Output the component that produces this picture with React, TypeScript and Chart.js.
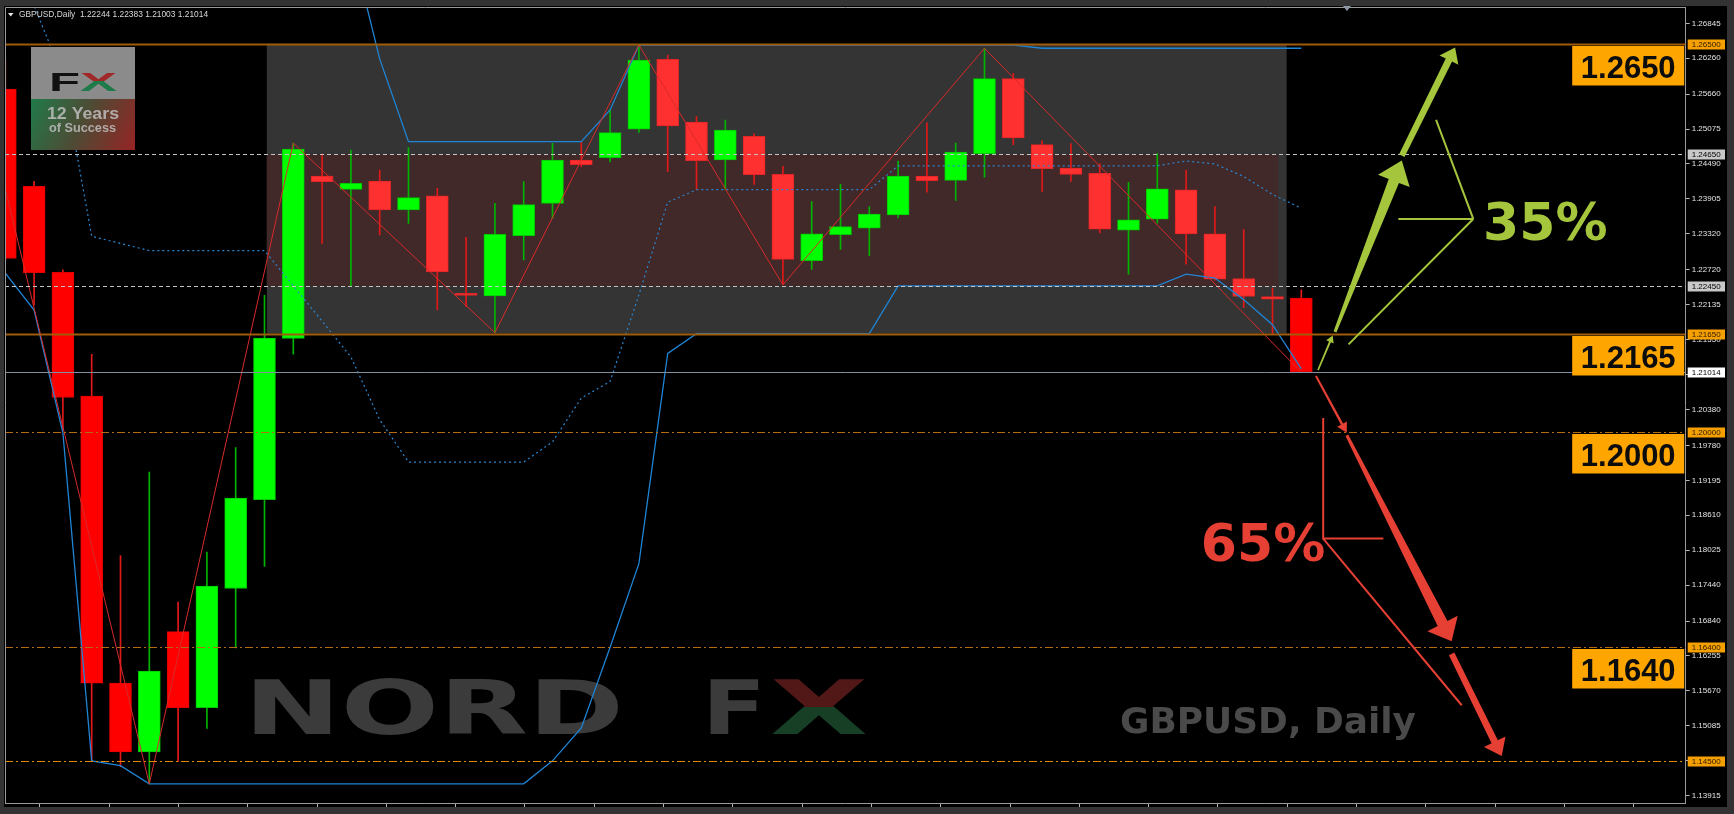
import React, { useEffect, useRef } from 'react';
import { Chart, registerables } from 'chart.js';
Chart.register(...registerables);

// ---- candle data (GBPUSD daily) ----
const OPEN = [1.25744, 1.24117, 1.22678, 1.20607, 1.158, 1.14648, 1.16662, 1.15388, 1.17385, 1.18873, 1.21569, 1.24289, 1.24066, 1.24205, 1.2372, 1.23959, 1.223, 1.2228, 1.2329, 1.23832, 1.24557, 1.24595, 1.25071, 1.26242, 1.25193, 1.24557, 1.24954, 1.24316, 1.22871, 1.23308, 1.23414, 1.23638, 1.24288, 1.24215, 1.24663, 1.25918, 1.24814, 1.24422, 1.24333, 1.23381, 1.23566, 1.24058, 1.23319, 1.22574, 1.22272, 1.22244];
const HIGH = [1.26237, 1.24199, 1.22719, 1.21306, 1.17936, 1.19333, 1.17155, 1.17993, 1.19744, 1.22292, 1.2484, 1.24657, 1.24724, 1.24389, 1.24763, 1.24083, 1.23263, 1.23832, 1.24194, 1.24836, 1.24863, 1.25394, 1.26482, 1.26314, 1.25282, 1.25226, 1.24999, 1.2445, 1.23862, 1.24148, 1.23778, 1.2454, 1.25178, 1.24842, 1.26427, 1.26007, 1.24876, 1.24831, 1.24495, 1.24182, 1.24663, 1.24383, 1.23778, 1.23392, 1.22412, 1.22383];
const LOW = [1.2286, 1.2213, 1.20032, 1.145, 1.14402, 1.14114, 1.14484, 1.15043, 1.1639, 1.17755, 1.21306, 1.23162, 1.22436, 1.23301, 1.23497, 1.22046, 1.22101, 1.21666, 1.22883, 1.23581, 1.24445, 1.24523, 1.2502, 1.24361, 1.24066, 1.24066, 1.24148, 1.22468, 1.22726, 1.23062, 1.22955, 1.23588, 1.24019, 1.23879, 1.24271, 1.24814, 1.2403, 1.24198, 1.23336, 1.22647, 1.23498, 1.22815, 1.22546, 1.22087, 1.21639, 1.21003];
const CLOSE = [1.22908, 1.2267, 1.20582, 1.15799, 1.14648, 1.16004, 1.15388, 1.17426, 1.18897, 1.21577, 1.24741, 1.24194, 1.24167, 1.2372, 1.23926, 1.22682, 1.2229, 1.23313, 1.23809, 1.24557, 1.24478, 1.25014, 1.26231, 1.25126, 1.24545, 1.25059, 1.2431, 1.22894, 1.23319, 1.23442, 1.2365, 1.24288, 1.2421, 1.24691, 1.25918, 1.24926, 1.24411, 1.24316, 1.23398, 1.23554, 1.24075, 1.23319, 1.22563, 1.22272, 1.22227, 1.21014];

// ---- channel indicator ----
const UPPER = [1.299, 1.299, 1.299, 1.299, 1.299, 1.299, 1.299, 1.296, 1.293, 1.29, 1.288, 1.285, 1.282, 1.2625, 1.24863, 1.24863, 1.24863, 1.24863, 1.24863, 1.24863, 1.24863, 1.25394, 1.2648, 1.2648, 1.2648, 1.2648, 1.2648, 1.2648, 1.2648, 1.2648, 1.2648, 1.2648, 1.2648, 1.2648, 1.2648, 1.2648, 1.26427, 1.26427, 1.26427, 1.26427, 1.26427, 1.26427, 1.26427, 1.26427, 1.26427, 1.26427];
const MIDDLE = [1.278, 1.2714, 1.2595, 1.2328, 1.2316, 1.2304, 1.2304, 1.2304, 1.2304, 1.2304, 1.2245, 1.2186, 1.2126, 1.2021, 1.195, 1.195, 1.195, 1.195, 1.195, 1.1984, 1.2057, 1.2085, 1.223, 1.2385, 1.2406, 1.2406, 1.2406, 1.2406, 1.2406, 1.2406, 1.2406, 1.2446, 1.2446, 1.2446, 1.2446, 1.2446, 1.2446, 1.2446, 1.2446, 1.2446, 1.2446, 1.2454, 1.2449, 1.2428, 1.2398, 1.2375];
const LOWER = [1.22662, 1.22045, 1.1999, 1.145, 1.14418, 1.14114, 1.14114, 1.14114, 1.14114, 1.14114, 1.14114, 1.14114, 1.14114, 1.14114, 1.14114, 1.14114, 1.14114, 1.14114, 1.14114, 1.145, 1.1505, 1.164, 1.178, 1.2132, 1.2165, 1.2165, 1.2165, 1.2165, 1.2165, 1.2165, 1.2165, 1.2245, 1.2245, 1.2245, 1.2245, 1.2245, 1.2245, 1.2245, 1.2245, 1.2245, 1.2245, 1.22647, 1.2258, 1.2222, 1.218, 1.2106];

// ---- zigzag ----
const ZZ_IDX = [0, 5, 10, 17, 22, 27, 34, 45];
const ZZ_VAL = [1.2407, 1.14114, 1.2484, 1.21666, 1.26482, 1.22468, 1.26427, 1.21003];

// ---- price axis ticks ----
const Y_TICKS = [1.26845, 1.2626, 1.2566, 1.25075, 1.2449, 1.23905, 1.2332, 1.2272, 1.22135, 1.2155, 1.20965, 1.2038, 1.1978, 1.19195, 1.1861, 1.18025, 1.1744, 1.1684, 1.16255, 1.1567, 1.15085, 1.145, 1.13915];
const Y_MIN = 1.13794;
const Y_MAX = 1.271178;
const X_MIN = -0.0104;
const X_MAX = 58.347;
const X_TICK_STEP = 2.406;

// ---- horizontal levels ----
const LEVEL_PRICES = [1.265, 1.2465, 1.2245, 1.2165, 1.21014, 1.2, 1.164, 1.145];
const LEVEL_TEXT = ['1.26500', '1.24650', '1.22450', '1.21650', '1.21014', '1.20000', '1.16400', '1.14500'];
const LEVEL_KIND = ['solid', 'dash', 'dash', 'solid', 'bid', 'dashdot', 'dashdot', 'dashdot2'];
const BIG_PRICES = [1.265, 1.2165, 1.2, 1.164];
const BIG_TEXT = ['1.2650', '1.2165', '1.2000', '1.1640'];

// ---- rectangles [x0, x1, top, bottom] ----
const RECT_GREY = [9.08, 44.49, 1.265, 1.2165];
const RECT_BROWN = [9.08, 44.2, 1.2465, 1.2245];

// ---- arrows [x1, p1, x2, p2, shaftStart, shaftEnd, headLen, headWidth] ----
const GREEN_ARROWS = [
  [45.58, 1.2104, 46.09, 1.2162, 1.6, 2, 7, 8],
  [46.17, 1.2168, 48.49, 1.2455, 3, 11, 22, 34],
  [48.49, 1.2463, 50.34, 1.2644, 6, 7, 14, 21],
];
const RED_ARROWS = [
  [45.51, 1.2094, 46.58, 1.1999, 2, 2.5, 10, 11],
  [46.58, 1.1995, 50.22, 1.165, 3, 11, 20, 34],
  [50.22, 1.1629, 51.96, 1.1458, 6, 7, 16, 24],
];
const GREEN_BRACKET = [
  [[49.68, 1.2523], [50.97, 1.2357]],
  [[48.37, 1.2357], [50.97, 1.2357]],
  [[46.64, 1.2147], [50.97, 1.2357]],
];
const RED_BRACKET = [
  [[45.76, 1.2024], [45.76, 1.1822], [47.85, 1.1822]],
  [[45.76, 1.1822], [50.57, 1.1543]],
];
const PCT_TEXT = ['35%', '65%'];
const PCT_POS = [[51.31, 1.23218], [41.51, 1.17845]];

const HEADER = 'GBPUSD,Daily  1.22244 1.22383 1.21003 1.21014';

const GREEN_C = '#a5c63c';
const RED_C = '#e64034';

function drawArrow(ctx: CanvasRenderingContext2D, x1: number, y1: number, x2: number, y2: number, w1: number, w2: number, hl: number, hw: number) {
  const dx = x2 - x1, dy = y2 - y1;
  const L = Math.hypot(dx, dy);
  const ux = dx / L, uy = dy / L;
  const px = -uy, py = ux;
  const bx = x2 - ux * hl, by = y2 - uy * hl;
  ctx.beginPath();
  ctx.moveTo(x1 + px * w1 / 2, y1 + py * w1 / 2);
  ctx.lineTo(bx + px * w2 / 2, by + py * w2 / 2);
  ctx.lineTo(bx + px * hw / 2, by + py * hw / 2);
  ctx.lineTo(x2, y2);
  ctx.lineTo(bx - px * hw / 2, by - py * hw / 2);
  ctx.lineTo(bx - px * w2 / 2, by - py * w2 / 2);
  ctx.lineTo(x1 - px * w1 / 2, y1 - py * w1 / 2);
  ctx.closePath();
  ctx.fill();
}

// draws text whose fill is computed in local (baseline-origin) coordinates
function stretchedText(ctx: CanvasRenderingContext2D, text: string, x: number, y: number, targetW: number, fill?: (c: CanvasRenderingContext2D) => void) {
  const w = ctx.measureText(text).width;
  ctx.save();
  ctx.translate(x, y);
  ctx.scale(targetW / w, 1);
  if (fill) fill(ctx);
  ctx.fillText(text, 0, 0);
  ctx.restore();
}

function splitFill(top: number, topColor: string, bottomColor: string) {
  return (c: CanvasRenderingContext2D) => {
    const g = c.createLinearGradient(0, -top, 0, 0);
    g.addColorStop(0, topColor);
    g.addColorStop(0.5, topColor);
    g.addColorStop(0.5, bottomColor);
    g.addColorStop(1, bottomColor);
    c.fillStyle = g;
  };
}

const overlayPlugin = {
  id: 'overlay',
  beforeDraw(chart: any) {
    const { ctx, width, height } = chart;
    ctx.save();
    ctx.fillStyle = '#333333';
    ctx.fillRect(0, 0, width, height);
    ctx.fillStyle = '#000000';
    ctx.fillRect(4, 6, 1723, 801);
    ctx.restore();
  },
  beforeDatasetsDraw(chart: any) {
    const { ctx, chartArea: a, scales } = chart;
    const xs = scales.x, ys = scales.y;
    ctx.save();
    ctx.beginPath();
    ctx.rect(a.left, a.top, a.right - a.left, a.bottom - a.top);
    ctx.clip();
    const rect = (r: number[], c: string) => {
      const x0 = xs.getPixelForValue(r[0]), x1 = xs.getPixelForValue(r[1]);
      const y0 = ys.getPixelForValue(r[2]), y1 = ys.getPixelForValue(r[3]);
      ctx.fillStyle = c;
      ctx.fillRect(x0, y0, x1 - x0, y1 - y0);
    };
    rect(RECT_GREY, '#343434');
    rect(RECT_BROWN, '#412929');

    // NORD FX watermark
    ctx.font = 'bold 74px "DejaVu Sans"';
    ctx.textBaseline = 'alphabetic';
    ctx.fillStyle = '#3b3b3b';
    stretchedText(ctx, 'NORD', 244, 734, 380);
    stretchedText(ctx, 'F', 702, 734, 64);
    stretchedText(ctx, 'X', 770, 734, 98, splitFill(54, '#521818', '#163f26'));

    // GBPUSD, Daily
    ctx.font = 'bold 36px "DejaVu Sans"';
    ctx.fillStyle = '#4a4a4a';
    stretchedText(ctx, 'GBPUSD, Daily', 1120, 733, 296);
    ctx.restore();
  },
  afterDatasetsDraw(chart: any) {
    const { ctx, chartArea: a, scales } = chart;
    const xs = scales.x, ys = scales.y;
    const X = (v: number) => xs.getPixelForValue(v);
    const Y = (v: number) => ys.getPixelForValue(v);
    ctx.save();
    ctx.beginPath();
    ctx.rect(a.left, a.top, a.right - a.left, a.bottom - a.top);
    ctx.clip();

    // horizontal levels
    LEVEL_PRICES.forEach((p, i) => {
      const y = Math.round(Y(p)) + 0.5;
      const k = LEVEL_KIND[i];
      ctx.beginPath();
      ctx.setLineDash([]);
      if (k === 'solid') { ctx.strokeStyle = '#a05c08'; ctx.lineWidth = 2; }
      else if (k === 'dash') { ctx.strokeStyle = '#c4c4c4'; ctx.lineWidth = 1; ctx.setLineDash([4, 3]); }
      else if (k === 'bid') { ctx.strokeStyle = '#8090a0'; ctx.lineWidth = 1; }
      else if (k === 'dashdot') { ctx.strokeStyle = '#b36c14'; ctx.lineWidth = 1; ctx.setLineDash([8, 3, 2, 3]); }
      else { ctx.strokeStyle = '#e38a00'; ctx.lineWidth = 1; ctx.setLineDash([8, 3, 2, 3]); }
      ctx.moveTo(a.left, y);
      ctx.lineTo(a.right, y);
      ctx.stroke();
    });
    ctx.setLineDash([]);

    // brackets
    ctx.lineWidth = 2;
    ctx.lineJoin = 'miter';
    ctx.strokeStyle = GREEN_C;
    GREEN_BRACKET.forEach((pl) => {
      ctx.beginPath();
      pl.forEach((pt, j) => (j ? ctx.lineTo(X(pt[0]), Y(pt[1])) : ctx.moveTo(X(pt[0]), Y(pt[1]))));
      ctx.stroke();
    });
    ctx.strokeStyle = RED_C;
    RED_BRACKET.forEach((pl) => {
      ctx.beginPath();
      pl.forEach((pt, j) => (j ? ctx.lineTo(X(pt[0]), Y(pt[1])) : ctx.moveTo(X(pt[0]), Y(pt[1]))));
      ctx.stroke();
    });

    // arrows
    ctx.fillStyle = GREEN_C;
    GREEN_ARROWS.forEach((r) => drawArrow(ctx, X(r[0]), Y(r[1]), X(r[2]), Y(r[3]), r[4], r[5], r[6], r[7]));
    ctx.fillStyle = RED_C;
    RED_ARROWS.forEach((r) => drawArrow(ctx, X(r[0]), Y(r[1]), X(r[2]), Y(r[3]), r[4], r[5], r[6], r[7]));

    // percentages
    ctx.font = 'bold 52px "DejaVu Sans"';
    ctx.textBaseline = 'alphabetic';
    ctx.textAlign = 'left';
    ctx.fillStyle = GREEN_C;
    ctx.fillText(PCT_TEXT[0], X(PCT_POS[0][0]), Y(PCT_POS[0][1]));
    ctx.fillStyle = RED_C;
    ctx.fillText(PCT_TEXT[1], X(PCT_POS[1][0]), Y(PCT_POS[1][1]));

    // big orange boxes
    BIG_PRICES.forEach((p, i) => {
      const top = Math.round(Y(p)) + 2;
      const right = a.right - 1.5;
      const left = right - 112;
      ctx.fillStyle = '#ffa500';
      ctx.fillRect(left, top, 112, 39.5);
      ctx.font = 'bold 31px "Liberation Sans"';
      ctx.textAlign = 'center';
      ctx.fillStyle = '#0c0c0c';
      ctx.fillText(BIG_TEXT[i], left + 56, top + 31.5);
    });
    ctx.textAlign = 'left';

    // FX 12 years logo
    ctx.fillStyle = '#8b8b8b';
    ctx.fillRect(31, 47, 104, 52);
    const lg = ctx.createLinearGradient(31, 99, 135, 150);
    lg.addColorStop(0, '#207a4a');
    lg.addColorStop(0.5, '#4f4a34');
    lg.addColorStop(1, '#962424');
    ctx.fillStyle = lg;
    ctx.fillRect(31, 99, 104, 51);
    ctx.font = 'bold 26px "Liberation Sans"';
    ctx.fillStyle = '#111111';
    stretchedText(ctx, 'F', 49, 91, 31);
    stretchedText(ctx, 'X', 80, 91, 37, splitFill(19, '#a02828', '#1f7a4a'));
    ctx.fillStyle = 'rgba(190,190,190,0.85)';
    ctx.font = 'bold 17px "Liberation Sans"';
    stretchedText(ctx, '12 Years', 47, 119, 72);
    ctx.font = 'bold 12.5px "Liberation Sans"';
    stretchedText(ctx, 'of Success', 49, 132, 67);

    // header
    ctx.fillStyle = '#e8e8e8';
    ctx.beginPath();
    ctx.moveTo(8, 13); ctx.lineTo(13.5, 13); ctx.lineTo(10.75, 16.5); ctx.closePath(); ctx.fill();
    ctx.font = '8.4px "Liberation Sans"';
    ctx.fillStyle = '#d8d8d8';
    ctx.textBaseline = 'middle';
    ctx.fillText(HEADER, 19, 15);
    ctx.restore();
  },
  afterDraw(chart: any) {
    const { ctx, chartArea: a, scales } = chart;
    const ys = scales.y;
    ctx.save();
    // plot frame
    ctx.strokeStyle = '#9a9a9a';
    ctx.lineWidth = 1;
    ctx.beginPath();
    ctx.moveTo(a.left + 0.5, a.bottom);
    ctx.lineTo(a.left + 0.5, a.top + 0.5);
    ctx.lineTo(a.right, a.top + 0.5);
    ctx.stroke();
    // level labels on price axis
    LEVEL_PRICES.forEach((p, i) => {
      const y = Math.round(ys.getPixelForValue(p)) + 0.5;
      const k = LEVEL_KIND[i];
      let bg = '#f5a000', fg = '#2a1a00';
      if (k === 'dash') { bg = '#c8c8c8'; fg = '#000000'; }
      if (k === 'bid') { bg = '#ffffff'; fg = '#000000'; }
      ctx.fillStyle = bg;
      ctx.fillRect(a.right + 2, y - 5, 37.3, 10);
      ctx.fillStyle = fg;
      ctx.font = '8px "Liberation Sans"';
      ctx.textBaseline = 'middle';
      ctx.textAlign = 'left';
      ctx.fillText(LEVEL_TEXT[i], a.right + 6, y + 0.5);
    });
    // chart shift marker
    ctx.fillStyle = '#8a96a4';
    ctx.beginPath();
    ctx.moveTo(1343, 6); ctx.lineTo(1351, 6); ctx.lineTo(1347, 11); ctx.closePath(); ctx.fill();
    ctx.restore();
  },
};

export default function App() {
  const ref = useRef<HTMLCanvasElement>(null);
  useEffect(() => {
    document.body.style.margin = '0';
    document.body.style.background = '#000';
    const canvas = ref.current!;
    const idx = OPEN.map((_, i) => i);
    const up = idx.map((i) => CLOSE[i] >= OPEN[i]);
    const inRect = (i: number) => i >= RECT_GREY[0] && i <= RECT_GREY[1];
    const bodyColor = idx.map((i) => (up[i] ? '#00ff00' : inRect(i) ? '#ff3030' : '#ff0000'));
    const bodyBorder = idx.map((i) => (up[i] ? '#00c800' : inRect(i) ? '#e02626' : '#e00000'));
    const wickColor = idx.map((i) => (up[i] ? '#00b400' : '#e01818'));
    const xTicks: number[] = [];
    for (let v = 0; v <= X_MAX; v += X_TICK_STEP) xTicks.push(v);

    const chart = new Chart(canvas, {
      type: 'bar',
      data: {
        datasets: [
          { type: 'bar', data: idx.map((i) => ({ x: i, y: [LOW[i], HIGH[i]] })), backgroundColor: wickColor, barThickness: 1, grouped: false, borderWidth: 0, order: 10 } as any,
          { type: 'bar', data: idx.map((i) => ({ x: i, y: [OPEN[i], CLOSE[i]] })), backgroundColor: bodyColor, borderColor: bodyBorder, borderWidth: 1, borderSkipped: false, barThickness: 22, grouped: false, minBarLength: 2, order: 9 } as any,
          { type: 'line', data: idx.map((i) => ({ x: i, y: UPPER[i] })), borderColor: '#1f84d4', borderWidth: 1.3, pointRadius: 0, tension: 0, order: 5 } as any,
          { type: 'line', data: idx.map((i) => ({ x: i, y: LOWER[i] })), borderColor: '#1f84d4', borderWidth: 1.3, pointRadius: 0, tension: 0, order: 5 } as any,
          { type: 'line', data: idx.map((i) => ({ x: i, y: MIDDLE[i] })), borderColor: '#2a86d0', borderWidth: 1.2, borderDash: [2, 3], pointRadius: 0, tension: 0, order: 5 } as any,
          { type: 'line', data: ZZ_IDX.map((x, k) => ({ x, y: ZZ_VAL[k] })), borderColor: '#d82a2a', borderWidth: 1, pointRadius: 0, tension: 0, order: 4 } as any,
        ],
      },
      options: {
        animation: false,
        responsive: false,
        devicePixelRatio: 1,
        layout: { padding: { left: 5, top: 7, right: 0, bottom: 0 } },
        plugins: { legend: { display: false }, tooltip: { enabled: false } },
        scales: {
          x: {
            type: 'linear',
            min: X_MIN,
            max: X_MAX,
            offset: false,
            grid: { drawOnChartArea: false, drawTicks: true, tickLength: 4, tickColor: '#b4b4b4', color: '#b4b4b4' },
            border: { display: true, color: '#9a9a9a' },
            ticks: { display: false, autoSkip: false },
            afterBuildTicks: (s: any) => { s.ticks = xTicks.map((v) => ({ value: v })); },
            afterFit: (s: any) => { s.height = 11; },
          },
          y: {
            type: 'linear',
            position: 'right',
            min: Y_MIN,
            max: Y_MAX,
            grid: { drawOnChartArea: false, drawTicks: true, tickLength: 4, tickColor: '#b4b4b4', color: '#b4b4b4' },
            border: { display: true, color: '#9a9a9a' },
            ticks: {
              autoSkip: false,
              padding: 2,
              color: '#e4e4e4',
              font: { family: 'Liberation Sans', size: 8 },
              callback: (v: any) => Number(v).toFixed(5),
            },
            afterBuildTicks: (s: any) => { s.ticks = Y_TICKS.map((v) => ({ value: v })); },
            afterFit: (s: any) => { s.width = 48.3; },
          },
        },
      } as any,
      plugins: [overlayPlugin],
    });
    return () => chart.destroy();
  }, []);
  return <canvas ref={ref} width={1734} height={814} style={{ display: 'block', width: '1734px', height: '814px' }} />;
}
